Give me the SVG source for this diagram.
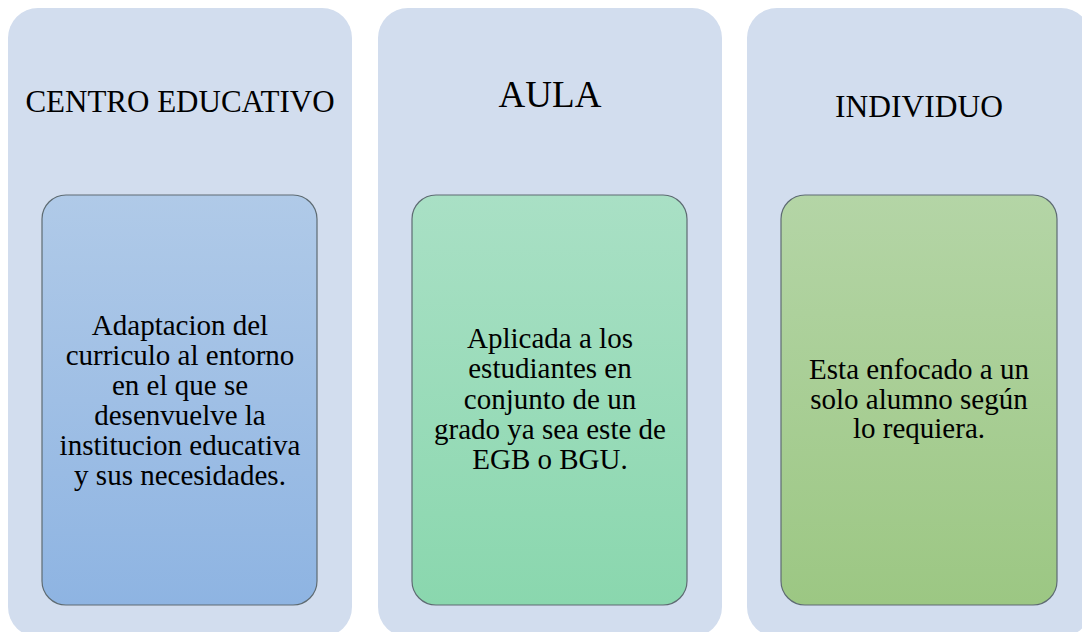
<svg xmlns="http://www.w3.org/2000/svg" width="1082" height="632" viewBox="0 0 1082 632">
<style>
.panel{fill:#D2DDEE}
.box{stroke:#5E6B72;stroke-width:1.2}
.title{font-family:"Liberation Serif","Times New Roman",serif;fill:#000;text-anchor:middle}
.body{font-family:"Liberation Serif","Times New Roman",serif;font-size:29px;fill:#000;text-anchor:middle}
</style>
<defs>
<linearGradient id="gBlue" x1="0" y1="0" x2="0" y2="1">
<stop offset="0" stop-color="#B0CAE8"/>
<stop offset="1" stop-color="#8EB4E2"/>
</linearGradient>
<linearGradient id="gTeal" x1="0" y1="0" x2="0" y2="1">
<stop offset="0" stop-color="#A9E0C5"/>
<stop offset="1" stop-color="#8AD7AE"/>
</linearGradient>
<linearGradient id="gGreen" x1="0" y1="0" x2="0" y2="1">
<stop offset="0" stop-color="#B4D5A6"/>
<stop offset="1" stop-color="#9CC783"/>
</linearGradient>
</defs>
<rect width="1082" height="632" fill="#FFFFFF"/>
<g id="connectors"></g>
<g id="node-centro">
<rect class="panel" x="8" y="8" width="344" height="629" rx="30"/>
<text class="title" x="180" y="112" font-size="31">CENTRO EDUCATIVO</text>
<rect class="box" x="42" y="195" width="275" height="410" rx="24" fill="url(#gBlue)"/>
<text class="body" x="180" y="335">Adaptacion del</text>
<text class="body" x="180" y="365">curriculo al entorno</text>
<text class="body" x="180" y="395">en el que se</text>
<text class="body" x="180" y="425">desenvuelve la</text>
<text class="body" x="180" y="455">institucion educativa</text>
<text class="body" x="180" y="485">y sus necesidades.</text>
</g>
<g id="node-aula">
<rect class="panel" x="378" y="8" width="344" height="629" rx="30"/>
<text class="title" x="550" y="107" font-size="37">AULA</text>
<rect class="box" x="412" y="195" width="275" height="410" rx="24" fill="url(#gTeal)"/>
<text class="body" x="550" y="348">Aplicada a los</text>
<text class="body" x="550" y="378">estudiantes en</text>
<text class="body" x="550" y="409">conjunto de un</text>
<text class="body" x="550" y="439">grado ya sea este de</text>
<text class="body" x="550" y="469">EGB o BGU.</text>
</g>
<g id="node-individuo">
<rect class="panel" x="747" y="8" width="344" height="629" rx="30"/>
<text class="title" x="919" y="117" font-size="31.5">INDIVIDUO</text>
<rect class="box" x="781" y="195" width="276" height="410" rx="24" fill="url(#gGreen)"/>
<text class="body" x="919" y="379">Esta enfocado a un</text>
<text class="body" x="919" y="409">solo alumno según</text>
<text class="body" x="919" y="438">lo requiera.</text>
</g>
</svg>
